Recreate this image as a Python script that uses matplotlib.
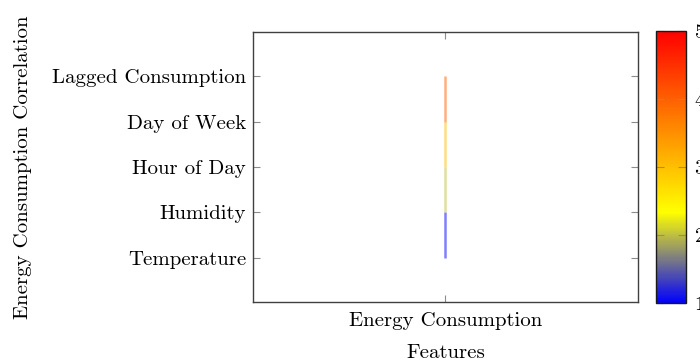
import numpy as np
import matplotlib
matplotlib.use('Agg')
import matplotlib.pyplot as plt
from matplotlib.collections import LineCollection
from matplotlib.colors import LinearSegmentedColormap, Normalize
from matplotlib.colorbar import ColorbarBase

plt.rcParams['font.family'] = 'cmr10'
plt.rcParams['axes.formatter.use_mathtext'] = True

# data
features = ['Temperature', 'Humidity', 'Hour of Day', 'Day of Week', 'Lagged Consumption']
target = 'Energy Consumption'
meta = [1, 2, 3, 4, 5]

cmap = LinearSegmentedColormap.from_list(
    'byr', [(0.0, (0, 0, 1)), (1 / 3, (1, 1, 0)), (1.0, (1, 0, 0))])
norm = Normalize(vmin=1, vmax=5)

fig = plt.figure(figsize=(7, 3.63), dpi=100)
ax = fig.add_axes([0.3614, 0.168, 0.55, 0.744])

ypos = np.arange(len(features))
xpos = np.zeros(len(features))
pts = np.column_stack([xpos, ypos])
segs = [pts[i:i + 2] for i in range(len(pts) - 1)]
lc = LineCollection(segs, colors=[cmap(norm(v)) for v in meta[:-1]],
                    linewidths=1.8, alpha=0.5)
ax.add_collection(lc)

ax.set_xlim(-1, 1)
ax.set_ylim(-0.97, 4.97)
ax.set_xticks([0])
ax.set_xticklabels([target])
ax.set_yticks(ypos)
ax.set_yticklabels(features)
ax.tick_params(direction='in', length=5, width=0.8, color='0.55',
               top=True, right=True, labelsize=15)
ax.tick_params(axis='y', pad=5)
ax.tick_params(axis='x', pad=7)
for sp in ax.spines.values():
    sp.set_color('0.25')
    sp.set_linewidth(1.0)
ax.set_xlabel('Features', fontsize=15)
ax.xaxis.set_label_coords(0.5, -0.155)
ax.set_ylabel('Energy Consumption Correlation', fontsize=15)
ax.yaxis.set_label_coords(-0.575, 0.5)

cax = fig.add_axes([0.937, 0.165, 0.043, 0.75])
cb = ColorbarBase(cax, cmap=cmap, norm=norm, ticks=[1, 2, 3, 4, 5])
cb.outline.set_edgecolor('0.1')
cb.outline.set_linewidth(1.0)
cax.tick_params(direction='in', length=6, width=0.8, color='0.55',
                left=True, right=True, labelsize=15, pad=6)

fig.savefig('out.png', dpi=100)
